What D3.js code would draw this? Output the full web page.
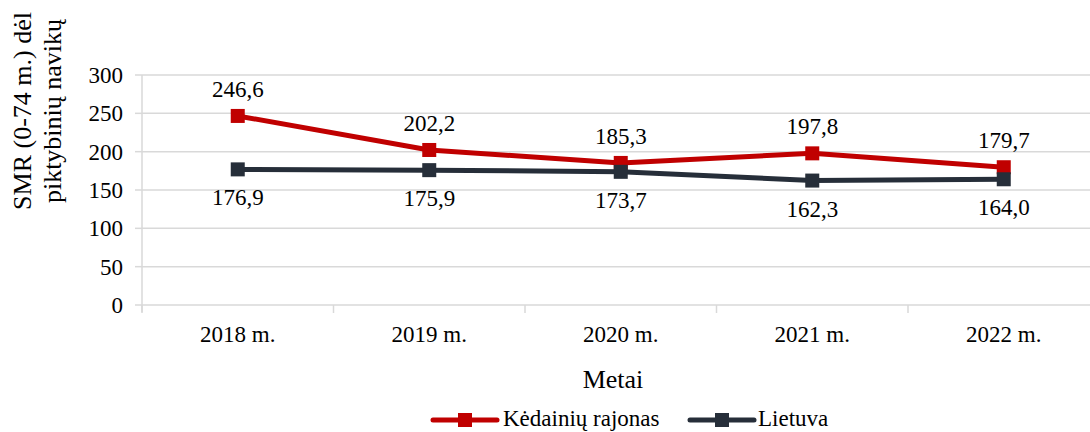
<!DOCTYPE html>
<html><head><meta charset="utf-8">
<script src="https://cdn.jsdelivr.net/npm/d3@7"></script>
<style>body{margin:0;background:#fff}svg{display:block}</style>
</head><body><svg id="c" width="1090" height="432"></svg>
<script>
const categories = ["2018 m.","2019 m.","2020 m.","2021 m.","2022 m."];
const kedainiai = [246.6, 202.2, 185.3, 197.8, 179.7];
const lietuva = [176.9, 175.9, 173.7, 162.3, 164.0];
const yTicks = [0,50,100,150,200,250,300];
const seriesNames = ["Kėdainių rajonas","Lietuva"];
const colors = ["#C00000","#262E39"];
const FONT = "Liberation Serif";

const svg = d3.select("#c");
const x = d3.scaleBand().domain(categories).range([142, 1099.5]);
const y = d3.scaleLinear().domain([0,300]).range([305,75]);
const fmt = v => v.toFixed(1).replace(".", ",");
const T = (sel, size) => sel.attr("font-family", FONT).attr("font-size", size).attr("fill", "#000");

svg.append("g").selectAll("line").data(yTicks).join("line")
  .attr("x1",142).attr("x2",1090).attr("y1",d=>y(d)).attr("y2",d=>y(d))
  .attr("stroke","#d9d9d9").attr("stroke-width",1.5);
svg.append("line").attr("x1",142).attr("x2",142).attr("y1",75).attr("y2",312).attr("stroke","#d9d9d9").attr("stroke-width",1.5);
svg.append("g").selectAll("line").data(yTicks).join("line")
  .attr("x1",135).attr("x2",142).attr("y1",d=>y(d)).attr("y2",d=>y(d)).attr("stroke","#d9d9d9").attr("stroke-width",1.5);
T(svg.append("g").selectAll("text").data(yTicks).join("text")
  .attr("x",123).attr("y",d=>y(d)).attr("dy","0.35em").attr("text-anchor","end"), 23).text(d=>d);
const bounds = categories.map(c=>x(c)).concat([x(categories[categories.length-1])+x.bandwidth()]);
svg.append("g").selectAll("line").data(bounds).join("line")
  .attr("x1",d=>d).attr("x2",d=>d).attr("y1",305).attr("y2",313).attr("stroke","#d9d9d9").attr("stroke-width",1.5);
T(svg.append("g").selectAll("text").data(categories).join("text")
  .attr("x",d=>x(d)+x.bandwidth()/2).attr("y",342).attr("text-anchor","middle"), 23).text(d=>d);
T(svg.append("text").attr("x",613).attr("y",388).attr("text-anchor","middle"), 26).text("Metai");
const yt = T(svg.append("text").attr("transform","translate(31,111) rotate(-90)").attr("text-anchor","middle"), 26);
yt.append("tspan").attr("x",0).attr("y",0).text("SMR (0-74 m.) dėl");
yt.append("tspan").attr("x",0).attr("y",30).text("piktybinių navikų");

const cx = d => x(d)+x.bandwidth()/2;
const line = d3.line().x((d,i)=>cx(categories[i])).y(d=>y(d));
[kedainiai, lietuva].forEach((data,si)=>{
  svg.append("path").datum(data).attr("d",line).attr("fill","none")
    .attr("stroke",colors[si]).attr("stroke-width",5).attr("stroke-linejoin","round");
  svg.append("g").selectAll("rect").data(data).join("rect")
    .attr("x",(d,i)=>cx(categories[i])-7).attr("y",d=>y(d)-7).attr("width",14).attr("height",14).attr("fill",colors[si]);
  T(svg.append("g").selectAll("text").data(data).join("text")
    .attr("x",(d,i)=>cx(categories[i])).attr("y",d=>si===0? y(d)-19 : y(d)+36)
    .attr("text-anchor","middle"), 23).text(d=>fmt(d));
});

const leg = [{x0:433, tx:503},{x0:690, tx:758}];
leg.forEach((l,i)=>{
  svg.append("line").attr("x1",l.x0).attr("x2",l.x0+64).attr("y1",420).attr("y2",420).attr("stroke",colors[i]).attr("stroke-width",5).attr("stroke-linecap","round");
  svg.append("rect").attr("x",l.x0+32-7).attr("y",413).attr("width",14).attr("height",14).attr("fill",colors[i]);
  T(svg.append("text").attr("x",l.tx).attr("y",426), 23).text(seriesNames[i]);
});
</script></body></html>
